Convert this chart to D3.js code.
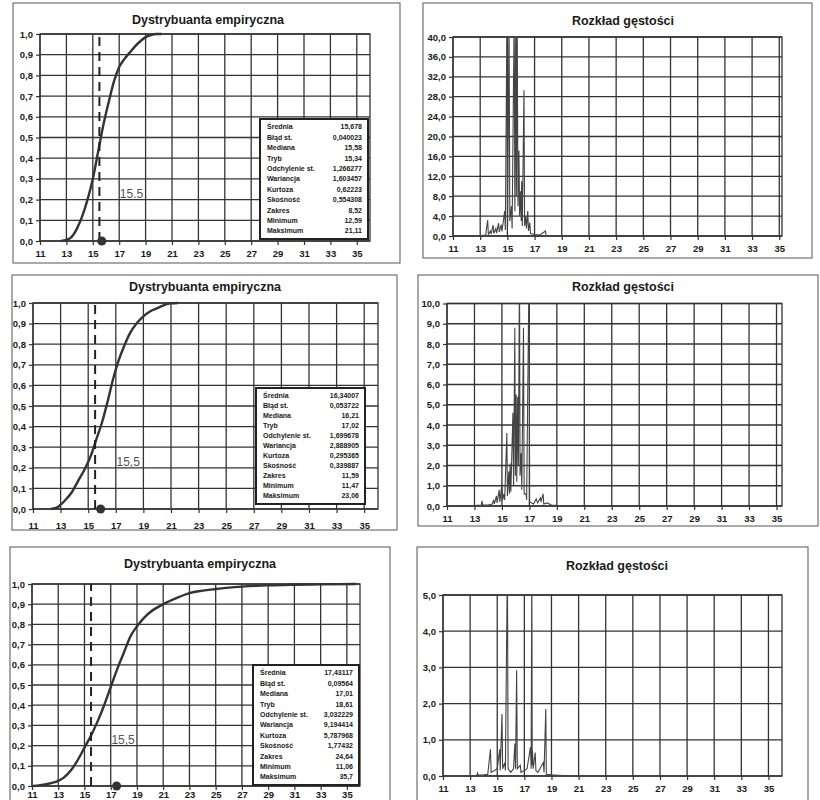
<!DOCTYPE html>
<html lang="pl">
<head>
<meta charset="UTF-8">
<title>Dystrybuanta i rozkład gęstości</title>
<script src="https://d3js.org/d3.v7.min.js"></script>
<style>
  body { margin: 0; background: #fff; }
  svg text { font-family: "Liberation Sans", Arial, sans-serif; fill: #1a1a1a; }
</style>
</head>
<body>
<svg id="main" width="820" height="800"></svg>
<script>
// ---- data ----
const xTicks = [11, 13, 15, 17, 19, 21, 23, 25, 27, 29, 31, 33, 35];
const cdfTicks = [0, 0.1, 0.2, 0.3, 0.4, 0.5, 0.6, 0.7, 0.8, 0.9, 1.0];
const densTicks1 = [0, 4, 8, 12, 16, 20, 24, 28, 32, 36, 40];
const densTicks2 = [0, 1, 2, 3, 4, 5, 6, 7, 8, 9, 10];
const densTicks3 = [0, 1, 2, 3, 4, 5];

const threshold = 15.5;
const thresholdLabels = ["15.5", "15,5", "15,5"];
const meanMarks = [15.68, 15.9, 17.45];

const statLabels = ["Średnia", "Błąd st.", "Mediana", "Tryb", "Odchylenie st.", "Wariancja",
                    "Kurtoza", "Skośność", "Zakres", "Minimum", "Maksimum"];
const stats1 = ["15,678", "0,040023", "15,58", "15,34", "1,266277", "1,603457",
                "0,62223", "0,554308", "8,52", "12,59", "21,11"];
const stats2 = ["16,34007", "0,053722", "16,21", "17,02", "1,699678", "2,888905",
                "0,295365", "0,339887", "11,59", "11,47", "23,06"];
const stats3 = ["17,43117", "0,09564", "17,01", "18,61", "3,032229", "9,194414",
                "5,787968", "1,77432", "24,64", "11,06", "35,7"];

const cdf1 = [[12.6,0],[13,0.005],[13.4,0.02],[13.8,0.06],[14.2,0.12],[14.6,0.2],[15,0.3],
  [15.4,0.43],[15.8,0.56],[16.2,0.67],[16.6,0.77],[17,0.84],[17.4,0.88],[17.8,0.91],
  [18.2,0.94],[18.6,0.965],[19,0.985],[19.4,0.995],[19.8,1],[20.2,1]];
const cdf2 = [[12.3,0],[12.8,0.01],[13.3,0.04],[13.8,0.08],[14.3,0.14],[14.8,0.2],[15.2,0.26],
  [15.6,0.34],[16,0.42],[16.4,0.52],[16.8,0.63],[17.2,0.72],[17.6,0.79],[18,0.85],[18.5,0.9],
  [19,0.935],[19.5,0.96],[20,0.975],[20.5,0.99],[21,0.998],[21.5,1]];
const cdf3 = [[11.1,0],[12,0.008],[12.8,0.02],[13.4,0.04],[14,0.08],[14.5,0.13],[15,0.19],
  [15.5,0.25],[16,0.32],[16.5,0.4],[17,0.49],[17.5,0.58],[18,0.66],[18.5,0.74],[19,0.79],
  [19.5,0.83],[20,0.86],[21,0.9],[22,0.93],[23,0.955],[24,0.967],[25,0.975],[26,0.982],
  [27,0.987],[29,0.993],[31,0.996],[33,0.998],[35.7,1]];

const dens1 = [[12.6,0],[13,0.1],[13.4,0.2],[13.55,3.2],[13.6,0.3],[13.75,1.0],[13.8,0.4],
  [13.95,2.2],[14,0.5],[14.15,1.5],[14.2,0.6],[14.35,2.6],[14.4,0.8],[14.55,2.3],[14.6,0.9],
  [14.8,5.0],[14.85,1.2],[14.97,45],[15.02,2],[15.12,45],[15.18,3],[15.3,6],[15.35,1.5],
  [15.5,45],[15.55,5],[15.62,45],[15.66,8],[15.72,45],[15.78,6],[15.85,17.2],[15.9,4],
  [15.97,9],[16.02,3],[16.05,11],[16.1,2],[16.22,29.3],[16.27,2],[16.35,4],[16.4,1.5],
  [16.5,5.0],[16.55,1],[16.65,2.7],[16.7,0.5],[17,0.3],[17.4,0.2],[17.8,1.0],[17.85,0.1],
  [18.5,0.05],[20,0],[21,0]];
const dens2 = [[12.5,0],[13,0.02],[13.5,0.05],[13.55,0.25],[13.6,0.05],[14,0.05],[14.3,0.1],
  [14.4,0.3],[14.45,0.1],[14.6,0.5],[14.65,0.15],[14.8,0.8],[14.85,0.2],[15,1.1],[15.05,0.3],
  [15.15,0.6],[15.2,0.3],[15.36,3.6],[15.4,0.5],[15.5,1.7],[15.55,0.6],[15.6,2.1],[15.65,0.7],
  [15.8,4.6],[15.85,1.0],[15.94,8.8],[15.98,1.5],[16.04,5.5],[16.08,1.2],[16.15,5.4],[16.2,2],
  [16.28,12],[16.32,1.5],[16.4,2.6],[16.45,0.8],[16.57,8.8],[16.62,0.6],[16.76,0.6],[16.8,0.3],
  [16.98,12],[17.02,0.2],[17.3,0.1],[17.5,0.35],[17.6,0.15],[17.8,0.4],[17.85,0.2],[18,0.6],
  [18.05,0.1],[18.3,0.15],[18.6,0.05],[19,0.03],[20,0]];
const dens3 = [[11,0],[12,0],[13,0.01],[13.5,0.02],[13.55,0.08],[13.6,0.02],[14,0.03],[14.3,0.05],
  [14.5,0.74],[14.55,0.1],[14.8,0.15],[15,0.2],[15.18,0.74],[15.22,0.15],[15.35,1.71],[15.4,0.2],
  [15.55,0.37],[15.6,0.15],[15.75,6],[15.8,0.2],[16,0.1],[16.2,0.2],[16.3,0.9],[16.35,0.2],
  [16.43,2.92],[16.48,0.2],[16.7,0.3],[16.75,0.1],[17,0.15],[17.2,0.2],[17.45,0.8],[17.5,0.2],
  [17.55,6],[17.58,0.3],[17.6,0.7],[17.65,0.2],[17.8,0.65],[17.85,0.15],[18,0.1],[18.4,0.37],
  [18.45,0.1],[18.58,1.85],[18.62,0.05],[19,0.03],[19.5,0.02],[20,0.01],[21,0]];

// ---- layout ----
const panels = [
  {kind: "cdf", title: "Dystrybuanta empiryczna", frame: [13, 3, 400, 263], plot: [40, 34, 370, 241],
   xMax: 36, titleX: 208, titleY: 21, xLabDy: 12, yTicks: cdfTicks, yMax: 1, line: cdf1,
   stats: stats1, box: [260, 119, 368, 239], mean: meanMarks[0], thr: thresholdLabels[0]},
  {kind: "dens", title: "Rozkład gęstości", frame: [423, 3, 812, 258], plot: [453, 37, 782, 236],
   xMax: 35.2, titleX: 623, titleY: 22, xLabDy: 12, yTicks: densTicks1, yMax: 40, line: dens1},
  {kind: "cdf", title: "Dystrybuanta empiryczna", frame: [12, 275, 397, 530], plot: [33, 303, 378, 509],
   xMax: 36, titleX: 205, titleY: 288, xLabDy: 16, yTicks: cdfTicks, yMax: 1, line: cdf2,
   stats: stats2, box: [256, 388, 365, 504], mean: meanMarks[1], thr: thresholdLabels[1]},
  {kind: "dens", title: "Rozkład gęstości", frame: [418, 275, 818, 526], plot: [447, 303.5, 782, 506],
   xMax: 35.4, titleX: 623, titleY: 288, xLabDy: 12, yTicks: densTicks2, yMax: 10, line: dens2},
  {kind: "cdf", title: "Dystrybuanta empiryczna", frame: [10, 547, 390, 812], plot: [32, 584, 360, 786],
   xMax: 36, titleX: 200, titleY: 565, xLabDy: 8, yTicks: cdfTicks, yMax: 1, line: cdf3,
   stats: stats3, box: [253, 665, 359, 785], mean: meanMarks[2], thr: thresholdLabels[2]},
  {kind: "dens", title: "Rozkład gęstości", frame: [417, 547, 808, 812], plot: [443, 595, 782, 776],
   xMax: 36, titleX: 617, titleY: 567, xLabDy: 12, yTicks: densTicks3, yMax: 5, line: dens3}
];

const pl = d3.formatLocale({decimal: ",", thousands: " ", grouping: [3], currency: ["", ""]});
const fmt1 = pl.format(".1f");

let svg = d3.select("svg#main");

panels.forEach(function (p, i) {
  let g = svg.append("g");
  // outer frame
  g.append("rect")
    .attr("x", p.frame[0]).attr("y", p.frame[1])
    .attr("width", p.frame[2] - p.frame[0]).attr("height", p.frame[3] - p.frame[1])
    .style("fill", "none").style("stroke", "#555").style("stroke-width", 1);

  g.append("text").attr("x", p.titleX).attr("y", p.titleY)
    .attr("text-anchor", "middle").attr("dominant-baseline", "middle")
    .style("font-size", "12.5px").style("font-weight", "bold")
    .text(p.title);

  let x = d3.scaleLinear().domain([11, p.xMax]).range([p.plot[0], p.plot[2]]);
  let y = d3.scaleLinear().domain([0, p.yMax]).range([p.plot[3], p.plot[1]]);

  // grid
  g.append("g").selectAll("line").data(xTicks).join("line")
    .attr("x1", d => x(d)).attr("x2", d => x(d))
    .attr("y1", p.plot[1]).attr("y2", p.plot[3])
    .style("stroke", "#333").style("stroke-width", 1.3);
  g.append("g").selectAll("line").data(p.yTicks).join("line")
    .attr("x1", p.plot[0]).attr("x2", p.plot[2])
    .attr("y1", d => y(d)).attr("y2", d => y(d))
    .style("stroke", "#333").style("stroke-width", 1.3);
  g.append("rect")
    .attr("x", p.plot[0]).attr("y", p.plot[1])
    .attr("width", p.plot[2] - p.plot[0]).attr("height", p.plot[3] - p.plot[1])
    .style("fill", "none").style("stroke", "#333").style("stroke-width", 1.3);

  // axes
  let xAxis = g.append("g").attr("transform", "translate(0," + p.plot[3] + ")")
    .call(d3.axisBottom(x).tickValues(xTicks).tickSize(4).tickPadding(p.xLabDy - 7));
  let yAxis = g.append("g").attr("transform", "translate(" + p.plot[0] + ",0)")
    .call(d3.axisLeft(y).tickValues(p.yTicks).tickFormat(fmt1).tickSize(4).tickPadding(3));
  [xAxis, yAxis].forEach(function (a) {
    a.select(".domain").remove();
    a.selectAll(".tick line").style("stroke", "#333").style("stroke-width", 1.2);
    a.selectAll("text").style("font-size", "9.5px").style("font-weight", "bold")
      .style("font-family", "'Liberation Sans', Arial, sans-serif").style("fill", "#1a1a1a");
  });

  let clipId = "clip" + i;
  g.append("clipPath").attr("id", clipId).append("rect")
    .attr("x", p.plot[0]).attr("y", p.plot[1])
    .attr("width", p.plot[2] - p.plot[0]).attr("height", p.plot[3] - p.plot[1]);

  if (p.kind === "dens") {
    let line = d3.line().x(d => x(d[0])).y(d => y(d[1]));
    g.append("path").datum(p.line).attr("d", line)
      .attr("clip-path", "url(#" + clipId + ")")
      .style("fill", "none").style("stroke", "#444").style("stroke-width", 1.1);
    return;
  }

  // cdf panel
  let line = d3.line().x(d => x(d[0])).y(d => y(d[1])).curve(d3.curveMonotoneX);
  g.append("path").datum(p.line).attr("d", line)
    .style("fill", "none").style("stroke", "#333").style("stroke-width", 2.4);

  g.append("line")
    .attr("x1", x(threshold)).attr("x2", x(threshold))
    .attr("y1", y(0)).attr("y2", y(1))
    .style("stroke", "#222").style("stroke-width", 2).style("stroke-dasharray", "9,6");

  g.append("text").attr("x", x(17.05)).attr("y", y(0.225))
    .attr("dominant-baseline", "middle")
    .style("font-size", "12px").style("fill", "#555")
    .text(p.thr);

  g.append("circle").attr("cx", x(p.mean)).attr("cy", y(0)).attr("r", 4.5)
    .style("fill", "#333");

  // statistics box
  let b = p.box;
  g.append("rect").attr("x", b[0]).attr("y", b[1])
    .attr("width", b[2] - b[0]).attr("height", b[3] - b[1])
    .style("fill", "#fff").style("stroke", "#222").style("stroke-width", 2);
  let step = (b[3] - b[1] - 16) / (statLabels.length - 1);
  let rows = g.append("g").selectAll("g").data(statLabels).join("g")
    .attr("transform", (d, k) => "translate(0," + (b[1] + 8.5 + k * step) + ")");
  rows.append("text").attr("x", b[0] + 7).attr("dominant-baseline", "middle")
    .style("font-size", "7px").style("font-weight", "bold").text(d => d);
  rows.append("text").attr("x", b[2] - 6).attr("text-anchor", "end")
    .attr("dominant-baseline", "middle")
    .style("font-size", "7px").style("font-weight", "bold")
    .text((d, k) => p.stats[k]);
});
</script>
</body>
</html>
